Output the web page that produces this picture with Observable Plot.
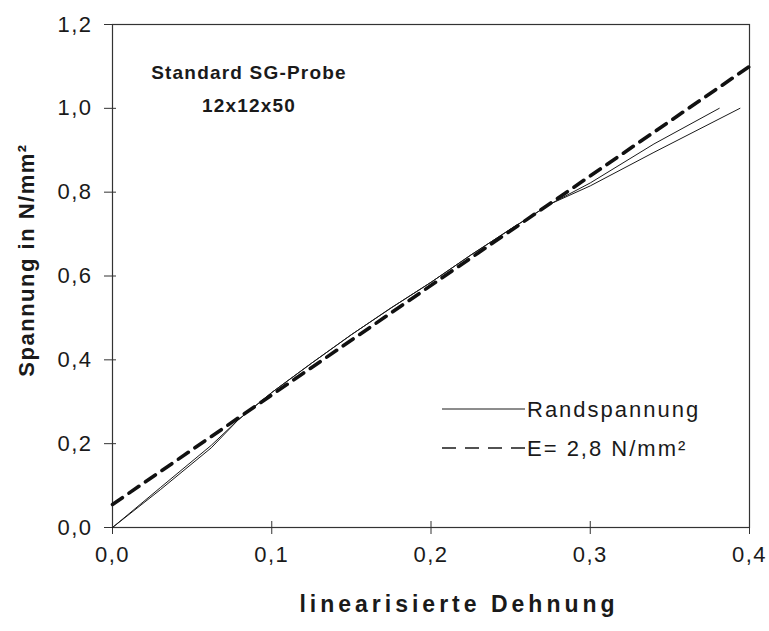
<!DOCTYPE html>
<html>
<head>
<meta charset="utf-8">
<script src="https://cdn.jsdelivr.net/npm/d3@7"></script>
<script src="https://cdn.jsdelivr.net/npm/@observablehq/plot@0.6"></script>
<style>
  html, body { margin: 0; padding: 0; background: #fff; }
  #chart svg { display: block; }
</style>
</head>
<body>
<div id="chart"></div>
<script>
// ---- data ----
const xTicks = [0, 0.1, 0.2, 0.3, 0.4];
const yTicks = [0, 0.2, 0.4, 0.6, 0.8, 1.0, 1.2];

// Randspannung (two measured edge-stress curves)
const randX1 = [0, 0.030, 0.062, 0.079, 0.100, 0.125, 0.150, 0.175, 0.200, 0.225, 0.250, 0.275, 0.300, 0.340, 0.381];
const randY1 = [0, 0.095, 0.196, 0.257, 0.322, 0.392, 0.460, 0.524, 0.585, 0.650, 0.712, 0.772, 0.822, 0.915, 1.000];
const randX2 = [0, 0.030, 0.062, 0.079, 0.100, 0.125, 0.150, 0.175, 0.200, 0.225, 0.250, 0.275, 0.300, 0.340, 0.394];
const randY2 = [0, 0.090, 0.190, 0.257, 0.322, 0.392, 0.460, 0.524, 0.585, 0.650, 0.712, 0.772, 0.815, 0.895, 1.000];

// E-modulus fit line
const fitX = [0, 0.4];
const fitY = [0.055, 1.10];

const noteLines = ["Standard SG-Probe", "12x12x50"];
const legendLabels = ["Randspannung", "E= 2,8 N/mm²"];
const xLabel = "linearisierte Dehnung";
const yLabel = "Spannung in N/mm²";

// ---- build tables ----
const rand1 = randX1.map((x, i) => ({x, y: randY1[i]}));
const rand2 = randX2.map((x, i) => ({x, y: randY2[i]}));
const fit = fitX.map((x, i) => ({x, y: fitY[i]}));

const fmt = d => d.toFixed(1).replace(".", ",");
const FONT = "'Liberation Sans', Arial, sans-serif";
const INK = "#1a1a1a";

const chart = Plot.plot({
  width: 769,
  height: 631,
  marginLeft: 112,
  marginRight: 20,
  marginTop: 24,
  marginBottom: 104,
  style: {fontFamily: FONT, fontSize: "22px", color: INK, background: "#fff", letterSpacing: "1.5px"},
  x: {domain: [0, 0.4]},
  y: {domain: [0, 1.2]},
  marks: [
    Plot.frame({stroke: "#333", strokeWidth: 1.2}),
    Plot.axisX({ticks: xTicks, tickSize: 7, tickPadding: 12, tickFormat: fmt, label: null, stroke: "#333", fill: INK,
      fontSize: 22}),
    Plot.axisX({ticks: xTicks, tickSize: -6, tickFormat: () => "", label: null, stroke: "#333"}),
    Plot.axisY({ticks: yTicks, tickSize: 8, tickPadding: 12, tickFormat: fmt, label: null, stroke: "#333", fill: INK,
      fontSize: 22}),
    Plot.axisY({ticks: yTicks, tickSize: -4, tickFormat: () => "", label: null, stroke: "#333"}),
    Plot.line(rand1, {x: "x", y: "y", stroke: INK, strokeWidth: 1}),
    Plot.line(rand2, {x: "x", y: "y", stroke: INK, strokeWidth: 1}),
    Plot.line(fit, {x: "x", y: "y", stroke: "#111", strokeWidth: 3.6, strokeDasharray: "12,8"})
  ]
});

const svg = d3.select(chart);
// annotation
noteLines.forEach((t, i) => {
  svg.append("text")
    .attr("x", 249).attr("y", 72 + i * 33).attr("dy", "0.35em")
    .attr("text-anchor", "middle")
    .attr("font-family", FONT).attr("font-weight", "bold").attr("font-size", 19)
    .attr("letter-spacing", "1.2px").attr("fill", INK)
    .text(t);
});
// axis titles
svg.append("text")
  .attr("x", 459).attr("y", 612)
  .attr("text-anchor", "middle")
  .attr("font-family", FONT).attr("font-weight", "bold").attr("font-size", 23)
  .attr("letter-spacing", "4px").attr("fill", INK)
  .text(xLabel);
svg.append("text")
  .attr("transform", "translate(34,260) rotate(-90)")
  .attr("text-anchor", "middle")
  .attr("font-family", FONT).attr("font-weight", "bold").attr("font-size", 22)
  .attr("letter-spacing", "1.5px").attr("fill", INK)
  .text(yLabel);

// legend
const lg = svg.append("g");
const legendStyles = [
  {dash: null, width: 1},
  {dash: "14,9", width: 1.4}
];
legendLabels.forEach((lab, i) => {
  const y = 409 + i * 39;
  lg.append("line").attr("x1", 442).attr("x2", 525).attr("y1", y).attr("y2", y)
    .attr("stroke", INK).attr("stroke-width", legendStyles[i].width)
    .attr("stroke-dasharray", legendStyles[i].dash);
  lg.append("text").attr("x", 527).attr("y", y).attr("dy", "0.35em")
    .attr("text-anchor", "start")
    .attr("font-family", FONT).attr("font-size", 22).attr("letter-spacing", "2px")
    .attr("fill", INK).text(lab);
});

document.getElementById("chart").appendChild(chart);
</script>
</body>
</html>
